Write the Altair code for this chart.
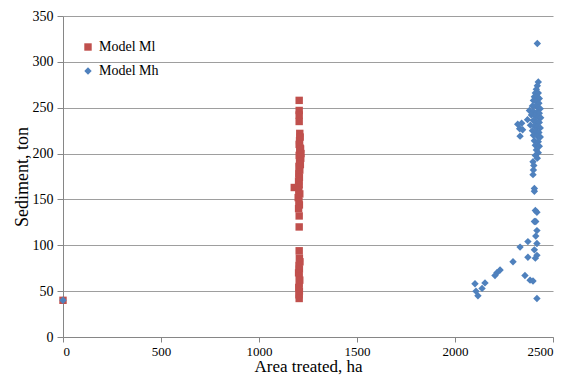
import altair as alt
import pandas as pd

# Model Ml (red squares)
ml_x = [0, 1205, 1205, 1205, 1205, 1208, 1210, 1207, 1205, 1210, 1208, 1205, 1210, 1207, 1204,
        1208, 1203, 1206, 1202, 1205, 1180, 1203, 1208, 1200, 1204, 1206, 1202, 1205, 1205,
        1205, 1206, 1209, 1204, 1206, 1202, 1205, 1208, 1205, 1203, 1206, 1204, 1205,
        1212, 1213, 1211, 1214]
ml_y = [40, 258, 247, 242, 235, 222, 218, 214, 210, 206, 202, 198, 194, 190, 186,
        182, 178, 174, 170, 166, 163, 160, 156, 152, 148, 144, 140, 132, 120,
        94, 86, 82, 78, 74, 70, 66, 62, 58, 54, 50, 46, 42,
        205, 195, 188, 200]

# Model Mh (blue diamonds)
mh_x = [0, 2420,
        2425, 2420, 2415, 2410, 2425, 2405, 2420, 2430, 2400, 2415, 2428, 2395, 2410, 2425,
        2435, 2380, 2400, 2418, 2430, 2390, 2410, 2425, 2437, 2370, 2400, 2415, 2430, 2340,
        2320, 2385, 2405, 2420, 2435, 2330, 2345, 2395, 2412, 2428, 2332, 2400, 2420, 2435,
        2405, 2425, 2410, 2430, 2415, 2425, 2410, 2420, 2398, 2402, 2400, 2398, 2405, 2405,
        2410, 2418, 2412, 2405, 2418, 2412, 2418, 2405, 2418, 2410,
        2372, 2332, 2372, 2296, 2230, 2214, 2204, 2357, 2383, 2398, 2153, 2102, 2138, 2107,
        2117, 2418]
mh_y = [40, 320,
        278, 274, 270, 266, 266, 262, 262, 260, 258, 257, 255, 252, 252, 250,
        249, 247, 246, 245, 244, 242, 241, 240, 239, 237, 236, 235, 234, 233,
        232, 231, 230, 229, 228, 227, 226, 225, 224, 223, 219, 220, 219, 218,
        214, 213, 209, 208, 204, 201, 198, 195, 191, 187, 182, 177, 162, 159,
        138, 136, 126, 126, 116, 110, 102, 95, 89, 86,
        104, 98, 87, 82, 73, 70, 67, 67, 62, 61, 59, 58, 53, 50,
        45, 42]

series = ["Model Ml", "Model Mh"]
x_ticks = [0, 500, 1000, 1500, 2000, 2500]
y_ticks = [0, 50, 100, 150, 200, 250, 300, 350]

df = pd.concat([
    pd.DataFrame({"area": ml_x, "sed": ml_y, "model": series[0], "ord": 0}),
    pd.DataFrame({"area": mh_x, "sed": mh_y, "model": series[1], "ord": 1}),
])

FONT = "Liberation Serif"

chart = alt.Chart(df).mark_point(filled=True, opacity=1, size=55).encode(
    x=alt.X("area:Q", scale=alt.Scale(domain=[0, 2500], nice=False),
            axis=alt.Axis(title="Area treated, ha", values=x_ticks, grid=False, format="d",
                          tickSize=5, labelPadding=3, labelFontSize=13,
                          titlePadding=0, titleFontSize=17)),
    y=alt.Y("sed:Q", scale=alt.Scale(domain=[0, 350], nice=False),
            axis=alt.Axis(title="Sediment, ton", values=y_ticks, grid=True, format="d",
                          tickSize=6, labelPadding=4, titlePadding=1)),
    color=alt.Color("model:N", sort=series,
                    scale=alt.Scale(domain=series, range=["#C0504D", "#4F81BD"]),
                    legend=alt.Legend(title=None, orient="none", legendX=18, legendY=24,
                                      symbolSize=55, labelFontSize=14, labelFont=FONT,
                                      labelColor="#000000", rowPadding=10, symbolStrokeWidth=0)),
    shape=alt.Shape("model:N", sort=series,
                    scale=alt.Scale(domain=series, range=["square", "diamond"]),
                    legend=None),
    order=alt.Order("ord:Q"),
).properties(
    width=490, height=321,
    padding={"left": 55, "top": 8, "right": 7, "bottom": 38},
    autosize=alt.AutoSizeParams(type="none"),
).configure_view(
    stroke=None
).configure_axis(
    labelFont=FONT, titleFont=FONT, labelFontSize=14, titleFontSize=18,
    labelColor="#000000", titleColor="#000000", titleFontWeight="normal",
    domainColor="#868686", tickColor="#868686", gridColor="#868686",
    gridOpacity=0.8
)

chart.save("out.html", embed_options={"renderer": "svg", "actions": False})
